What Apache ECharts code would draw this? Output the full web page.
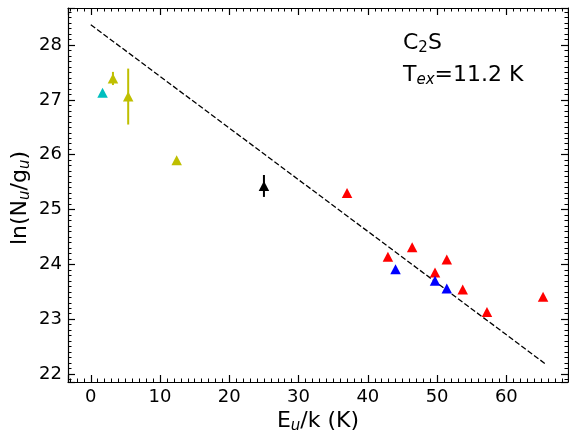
<!DOCTYPE html>
<html>
<head>
<meta charset="utf-8">
<script src="https://cdn.jsdelivr.net/npm/echarts@6/dist/echarts.min.js"></script>
<style>
  html, body { margin: 0; padding: 0; background: #ffffff; }
  #chart { width: 569px; height: 439px; }
</style>
</head>
<body>
<div id="chart"></div>
<script>
// Rotation diagram of C2S: ln(Nu/gu) against upper-level energy Eu/k
const cyanPts   = [[1.7, 27.13]];
const yellowPts = [[3.2, 27.39], [5.4, 27.06], [12.4, 25.90]];
const yellowErr = [0.12, 0.51, 0];
const blackPts  = [[25.0, 25.43]];
const blackErr  = [0.20];
const redPts    = [[37.0, 25.30], [42.9, 24.14], [46.4, 24.31], [51.4, 24.09],
                   [49.7, 23.85], [53.7, 23.54], [57.2, 23.13], [65.3, 23.41]];
const bluePts   = [[44.0, 23.91], [49.7, 23.70], [51.4, 23.56]];
const fitLine   = [[0, 28.37], [65.8, 22.17]];
const xRange    = [-3.29, 68.9];
const yRange    = [21.855, 28.675];

const FONT = 'DejaVu Sans';

// [x, low, high] triples for vertical error bars
function errBars(pts, errs) {
  const out = [];
  pts.forEach((p, i) => { if (errs[i] > 0) out.push([p[0], p[1] - errs[i], p[1] + errs[i]]); });
  return out;
}

function errSeries(pts, errs, color) {
  return {
    type: 'custom',
    data: errBars(pts, errs),
    encode: { x: 0, y: [1, 2] },
    z: 3,
    renderItem: function (params, api) {
      const a = api.coord([api.value(0), api.value(1)]);
      const b = api.coord([api.value(0), api.value(2)]);
      return { type: 'line', shape: { x1: a[0], y1: a[1], x2: b[0], y2: b[1] },
               style: { stroke: color, lineWidth: 2 } };
    }
  };
}

function markers(pts, color) {
  return {
    type: 'scatter', data: pts, symbol: 'triangle', symbolSize: [10.5, 10],
    itemStyle: { color: color, opacity: 1 }, z: 4
  };
}

function axis(opts) {
  return Object.assign({
    type: 'value',
    axisLine: { show: true, onZero: false, lineStyle: { color: '#000', width: 1.2 } },
    axisTick: { show: true, inside: true, length: 7, lineStyle: { color: '#000', width: 1.2 } },
    minorTick: { show: true, splitNumber: 10, length: 3.5, lineStyle: { color: '#000', width: 1 } },
    splitLine: { show: false },
    minorSplitLine: { show: false },
    axisLabel: { show: false }
  }, opts);
}

const tickLabel = { show: true, color: '#000', fontFamily: FONT, fontSize: 18, margin: 6,
                    showMinLabel: false, showMaxLabel: false };

const rich = {
  m: { fontFamily: FONT, fontSize: 22, lineHeight: 22, verticalAlign: 'top', fill: '#000' },
  s: { fontFamily: FONT, fontSize: 15, fontStyle: 'italic', lineHeight: 15, padding: [9, 0, 0, 0],
       verticalAlign: 'top', fill: '#000' },
  n: { fontFamily: FONT, fontSize: 15, lineHeight: 15, padding: [9, 0, 0, 0],
       verticalAlign: 'top', fill: '#000' }
};

const chart = echarts.init(document.getElementById('chart'), null, { renderer: 'canvas' });
chart.setOption({
  animation: false,
  backgroundColor: '#ffffff',
  grid: { left: 68, right: 1, top: 8, bottom: 57, containLabel: false },
  xAxis: [
    axis({ position: 'bottom', min: xRange[0], max: xRange[1], minInterval: 10, maxInterval: 10,
           axisLabel: tickLabel }),
    axis({ position: 'top', min: xRange[0], max: xRange[1], minInterval: 10, maxInterval: 10 })
  ],
  yAxis: [
    axis({ position: 'left', min: yRange[0], max: yRange[1], minInterval: 1, maxInterval: 1,
           axisLabel: tickLabel }),
    axis({ position: 'right', min: yRange[0], max: yRange[1], minInterval: 1, maxInterval: 1 })
  ],
  series: [
    { type: 'line', data: fitLine, symbol: 'none', z: 2,
      lineStyle: { color: '#000', width: 1.3, type: [5.5, 2.4] } },
    errSeries(yellowPts, yellowErr, '#bfbf00'),
    errSeries(blackPts, blackErr, '#000000'),
    markers(cyanPts, '#00bfbf'),
    markers(yellowPts, '#bfbf00'),
    markers(blackPts, '#000000'),
    markers(redPts, '#ff0000'),
    markers(bluePts, '#0000ff')
  ],
  graphic: [
    { type: 'text', x: 318, y: 410, z: 10,
      style: { text: '{m|E}{s|u}{m|/k (K)}', rich: rich, align: 'center', verticalAlign: 'top' } },
    { type: 'text', x: 9, y: 198, rotation: Math.PI / 2, z: 10,
      style: { text: '{m|ln(N}{s|u}{m|/g}{s|u}{m|)}', rich: rich, align: 'center', verticalAlign: 'top' } },
    { type: 'text', x: 403, y: 32, z: 10,
      style: { text: '{m|C}{n|2}{m|S}', rich: rich, align: 'left', verticalAlign: 'top' } },
    { type: 'text', x: 403, y: 64, z: 10,
      style: { text: '{m|T}{s|ex}{m|=11.2 K}', rich: rich, align: 'left', verticalAlign: 'top' } }
  ]
});
</script>
</body>
</html>
